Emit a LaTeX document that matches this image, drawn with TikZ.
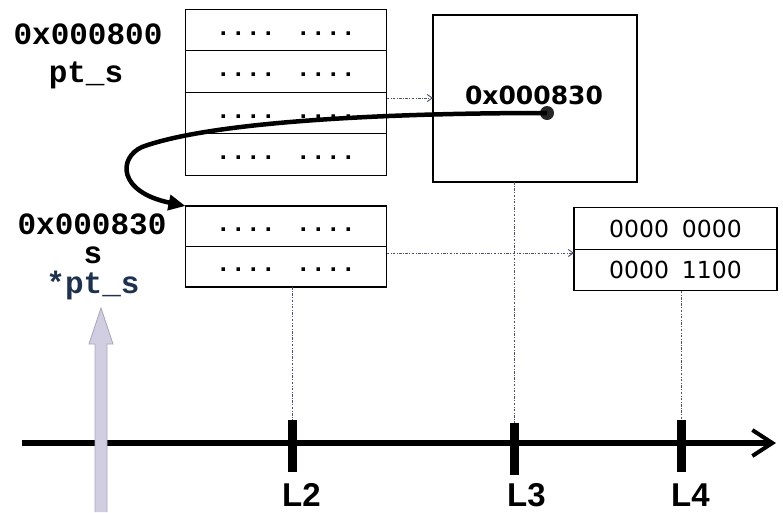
\documentclass[tikz,border=0pt]{standalone}
\usepackage{fontspec}
\setmainfont{DejaVu Sans}
\newfontfamily\cour{Liberation Mono}
\newfontfamily\arl{Liberation Sans}
\usetikzlibrary{arrows.meta}
\definecolor{gridblue}{RGB}{80,80,115}
\definecolor{lilac}{RGB}{208,206,224}
\definecolor{lilacdark}{RGB}{170,168,190}
\definecolor{navytext}{RGB}{30,50,80}
\begin{document}
\begin{tikzpicture}[x=1pt,y=-1pt,
  cell/.style={draw, line width=1.4pt, minimum width=201pt, minimum height=41.5pt, inner sep=0pt, outer sep=0pt},
  dotcell/.style={cell, font=\cour\bfseries\fontsize{25}{25}\selectfont, text height=10pt, text depth=0pt},
  numcell/.style={cell, minimum width=203pt, font=\fontsize{23.5}{23.5}\selectfont},
  lab/.style={font=\cour\bfseries\fontsize{31}{31}\selectfont, anchor=base, inner sep=0pt},
  tick/.style={fill=black, minimum width=9pt, minimum height=52pt, inner sep=0pt, outer sep=0pt},
  ticklab/.style={font=\arl\bfseries\fontsize{33}{33}\selectfont, anchor=base west, inner sep=0pt},
  guide/.style={draw=gridblue, line width=0.9pt, dash pattern=on 2.5pt off 1.5pt on 0.8pt off 1.5pt},
  ptr/.style={guide, -{Straight Barb[length=5pt,width=7pt]}}
]
\useasboundingbox (0,0) rectangle (783,512);

% top-left memory block
\node[dotcell] (a1) at (286,30) {.... ....};
\node[dotcell] (a2) at (286,71.5) {.... ....};
\node[dotcell] (a3) at (286,113) {.... ....};
\node[dotcell] (a4) at (286,154.5) {.... ....};

% lower-left memory block
\node[dotcell, minimum height=40.5pt] (b1) at (286,226.25) {.... ....};
\node[dotcell, minimum height=40.5pt] (b2) at (286,266.75) {.... ....};

% big box
\node[draw, line width=1.4pt, minimum width=204pt, minimum height=167pt, inner sep=0pt, outer sep=0pt] (big) at (535,98.5) {};
\node[font=\bfseries\fontsize{25}{25}\selectfont, inner sep=0pt] (addr) at (534,95) {0x000830};
\node[circle, fill=black!85, minimum size=14pt, inner sep=0pt] (dot) at (547,113) {};

% right block
\node[numcell] (c1) at (675.5,228.5) {0000\hspace{13pt}0000};
\node[numcell] (c2) at (675.5,270) {0000\hspace{13pt}1100};

% left labels
\node[lab] (l1) at (88,44) {0x000800};
\node[lab] (l2) at (86,82) {pt\_s};
\node[lab] (l3) at (92,234) {0x000830};
\node[lab] (l4) at (93,263) {s};
\node[lab, text=navytext] (l5) at (93,293) {*pt\_s};

% timeline
\coordinate (t0) at (22,443);
\coordinate (t1) at (776,443);
\draw[line width=6pt, -{Straight Barb[length=20pt,width=26pt,line width=4pt]}] (t0) -- (t1);
\node[tick] (k2) at (292,446) {};
\node[tick] (k3) at (514,449) {};
\node[tick] (k4) at (681,446) {};
\node[ticklab] (n2) at (282,506) {L2};
\node[ticklab] (n3) at (507,506) {L3};
\node[ticklab] (n4) at (671,506) {L4};

% guide lines
\draw[guide] (b2.south -| k2) -- (k2.north);
\draw[guide] (big.south -| k3) -- (k3.north);
\draw[guide] (c2.south -| k4) -- (k4.north);
\draw[ptr] (a3.east |- 0,98) -- (big.west |- 0,98);
\draw[ptr] (b2.east |- 0,253) -- (c2.west |- 0,253);

% pointer curve
\draw[line width=4.5pt, -{Triangle[length=17pt,width=15pt]}]
  (dot.center) .. controls (380,113) and (210,122) .. (142,147)
  .. controls (118,158) and (118,192) .. (b1.north west);

% grey marker arrow
\draw[fill=lilac, draw=lilacdark, line width=0.8pt]
  (95,512) -- (95,344) -- (89,344) -- (101,308) -- (113,344) -- (107,344) -- (107,512);
\end{tikzpicture}
\end{document}
